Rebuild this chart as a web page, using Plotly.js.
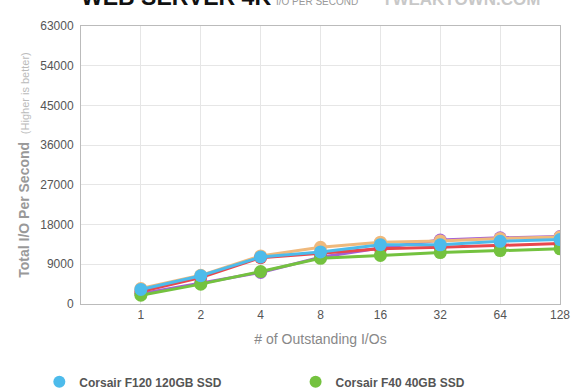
<!DOCTYPE html>
<html>
<head>
<meta charset="utf-8">
<script src="https://cdn.plot.ly/plotly-3.0.1.min.js"></script>
<style>html,body{margin:0;padding:0;background:#fff}#chart{width:580px;height:390px}</style>
</head>
<body>
<div id="chart"></div>
<script>
var categories = ['1', '2', '4', '8', '16', '32', '64', '128'];
var seriesNames = ['Corsair F120 120GB SSD', 'Corsair F40 40GB SSD', 'SSD C', 'SSD D', 'SSD E'];
var f120 = [3300, 6400, 10650, 11800, 13450, 13400, 14200, 14600];
var f40 = [2000, 4500, 7350, 10350, 11000, 11650, 12100, 12500];
var ssdRed = [2800, 6000, 10500, 11500, 12500, 12850, 13250, 13700];
var ssdPurple = [2300, 4700, 7150, 10600, 12700, 14500, 15000, 15300];
var ssdOrange = [3500, 6500, 10900, 12850, 14000, 14300, 14850, 15200];
var colors = ['#4dbbeb', '#74c23f', '#e8474d', '#a35fd8', '#efb97c'];
var yTicks = [0, 9000, 18000, 27000, 36000, 45000, 54000, 63000];

function tr(name, y, color) {
  return {
    type: 'scatter', mode: 'lines+markers', name: name,
    x: categories, y: y, showlegend: false,
    line: {color: color, width: 3},
    marker: {color: color, size: 13}
  };
}
function legendEntry(name, color, legendId) {
  return {
    type: 'scatter', mode: 'markers', name: name, x: [null], y: [null],
    showlegend: true, legend: legendId, marker: {color: color, size: 12}
  };
}
var data = [
  tr(seriesNames[3], ssdPurple, colors[3]),
  tr(seriesNames[4], ssdOrange, colors[4]),
  tr(seriesNames[2], ssdRed, colors[2]),
  tr(seriesNames[1], f40, colors[1]),
  tr(seriesNames[0], f120, colors[0]),
  legendEntry(seriesNames[0], colors[0], 'legend'),
  legendEntry(seriesNames[1], colors[1], 'legend2')
];

var legendFont = {size: 12, color: '#555', family: 'Liberation Sans, Arial, sans-serif', weight: 'bold'};
var layout = {
  width: 580, height: 390,
  margin: {l: 81, r: 20, t: 26, b: 86, autoexpand: false},
  paper_bgcolor: '#fff', plot_bgcolor: '#fff',
  font: {family: 'Liberation Sans, Arial, sans-serif', color: '#555'},
  xaxis: {
    type: 'category', categoryorder: 'array', categoryarray: categories,
    range: [-1, 7], showgrid: true, gridcolor: '#e6e6e6', gridwidth: 1,
    showline: true, linecolor: '#bbb', linewidth: 1, mirror: true,
    ticks: '', tickfont: {size: 12, color: '#555'},
    title: {text: '# of Outstanding I/Os', font: {size: 14, color: '#888'}, standoff: 12},
    zeroline: false
  },
  yaxis: {
    range: [0, 63000], tickvals: yTicks, ticktext: yTicks.map(String),
    showgrid: true, gridcolor: '#e6e6e6', gridwidth: 1,
    showline: true, linecolor: '#bbb', linewidth: 1, mirror: true,
    ticks: '', tickfont: {size: 12, color: '#555'}, ticklabelstandoff: 4,
    zeroline: false,
    title: {text: '<b>Total I/O Per Second</b>  <span style="font-size:11px;color:#bbb">(Higher is better)</span>', font: {size: 14, color: '#999'}, standoff: 7}
  },
  showlegend: true,
  legend: {
    orientation: 'h', x: -0.087, xanchor: 'left', y: -0.28, yanchor: 'middle',
    font: legendFont, itemsizing: 'constant', bgcolor: 'rgba(0,0,0,0)'
  },
  legend2: {
    orientation: 'h', x: 0.448, xanchor: 'left', y: -0.28, yanchor: 'middle',
    font: legendFont, itemsizing: 'constant', bgcolor: 'rgba(0,0,0,0)'
  },
  annotations: [
    {text: '<b>WEB SERVER 4K</b>', xref: 'paper', yref: 'paper', x: -0.004, y: 1.051, xanchor: 'left', yanchor: 'bottom',
     showarrow: false, font: {size: 23, color: '#111', family: 'Liberation Sans, Arial, sans-serif'}},
    {text: 'I/O PER SECOND', xref: 'paper', yref: 'paper', x: 0.402, y: 1.061, xanchor: 'left', yanchor: 'bottom',
     showarrow: false, font: {size: 10, color: '#999', family: 'Liberation Sans, Arial, sans-serif'}},
    {text: '<b>TWEAKTOWN.COM</b>', xref: 'paper', yref: 'paper', x: 0.962, y: 1.054, xanchor: 'right', yanchor: 'bottom',
     showarrow: false, font: {size: 17, color: '#c8c8c8', family: 'Liberation Sans, Arial, sans-serif'}}
  ]
};
Plotly.newPlot('chart', data, layout, {displayModeBar: false, staticPlot: true});
</script>
</body>
</html>
